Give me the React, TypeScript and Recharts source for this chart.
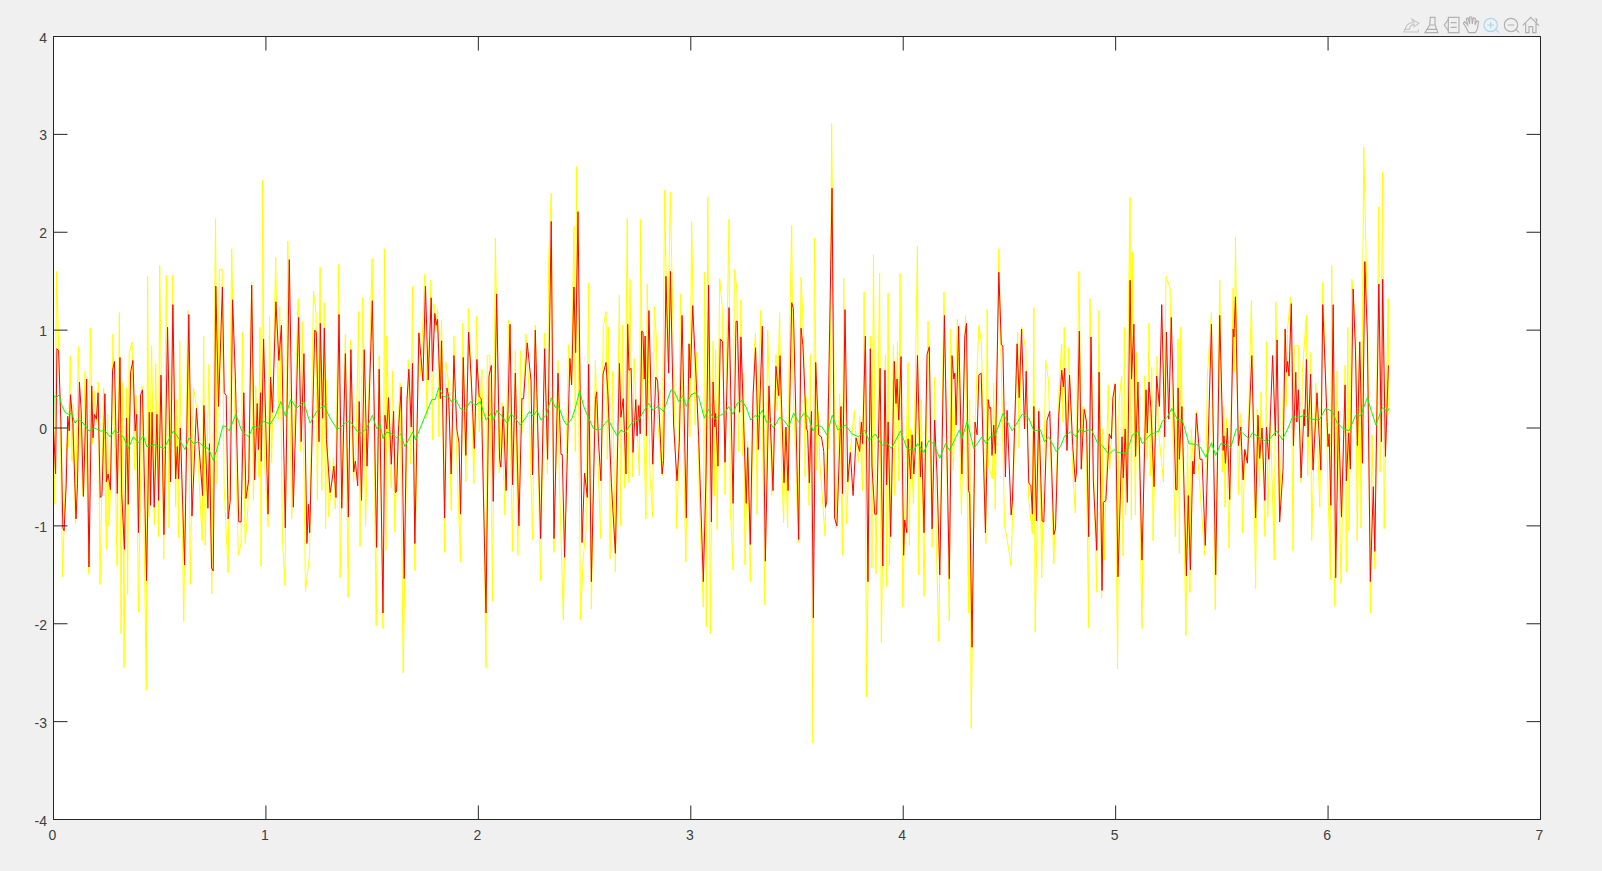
import React from "react";
import { LineChart, Line, XAxis, YAxis } from "recharts";

const xTicks = [0, 1, 2, 3, 4, 5, 6, 7];
const yTicks = [-4, -3, -2, -1, 0, 1, 2, 3, 4];

// [t, value], peaks and troughs of each trace
const yellowPoints: number[][] = [
  [0,.36],[.004,-.78],[.015,1.6],[.026,.7],[.043,-1.52],[.053,-.74],[.062,-.15],[.07,-.19],[.079,.74],[.087,-.34],[.093,.24],[.103,-.98],[.117,.83],[.128,-.09],[.137,-.69],[.148,.58],[.166,-1.49],[.173,1.02],[.184,-.16],[.194,.38],[.203,.05],[.211,.47],[.219,-1.6],[.236,.41],[.249,-1.24],[.255,.14],[.261,-1],[.271,-.5],[.28,.96],[.299,-1.41],[.31,1.18],[.318,-2.1],[.326,.47],[.332,-2.45],[.343,.41],[.349,-1.7],[.356,.76],[.37,.88],[.381,-.43],[.389,.33],[.4,-1.88],[.417,.43],[.437,-2.68],[.443,1.55],[.45,-.91],[.462,.84],[.475,-.99],[.481,.66],[.494,-1.11],[.5,1.66],[.519,-1.34],[.531,1.56],[.544,-1.02],[.561,1.56],[.575,-.81],[.582,.29],[.588,-1.12],[.594,.89],[.613,-1.98],[.632,1.2],[.644,-1.6],[.659,.41],[.673,.22],[.685,-.52],[.7,-1.15],[.707,.94],[.714,-1.2],[.732,.65],[.745,-1.69],[.763,2.14],[.77,-.57],[.781,1.62],[.794,1.62],[.803,-.59],[.822,-1.48],[.839,1.83],[.852,.26],[.87,-1.3],[.883,-1.18],[.889,.98],[.902,-1.18],[.915,-.84],[.933,1.49],[.941,-.74],[.952,.43],[.965,-.5],[.972,1.03],[.977,-1.41],[.985,2.53],[.993,-.33],[1.01,-1.01],[1.017,1.14],[1.027,-.36],[1.046,1.74],[1.059,.09],[1.065,1.24],[1.078,-1.14],[1.09,-1.61],[1.103,1.91],[1.121,-.93],[1.152,1.32],[1.162,-.24],[1.171,1.09],[1.186,-1.67],[1.205,-1.31],[1.224,1.4],[1.236,1.17],[1.242,-.74],[1.255,1.64],[1.263,-.64],[1.274,1.28],[1.281,-1.03],[1.287,.49],[1.294,-.91],[1.306,-.64],[1.318,-.3],[1.326,-.83],[1.343,1.67],[1.349,-1.53],[1.374,.96],[1.387,-1.73],[1.399,.9],[1.412,-.55],[1.424,-.17],[1.437,1.19],[1.443,-1.21],[1.456,1.33],[1.469,-1],[1.5,1.73],[1.519,-2.02],[1.533,.74],
  [1.551,-2.05],[1.558,1.83],[1.565,-1.25],[1.569,.94],[1.579,-.18],[1.59,-.61],[1.596,.58],[1.607,-1.06],[1.621,-.01],[1.632,.46],[1.646,-2.5],[1.67,.69],[1.682,-.37],[1.69,1.45],[1.701,-1.46],[1.719,.98],[1.73,.53],[1.747,1.57],[1.758,.1],[1.777,1.51],[1.784,-.12],[1.791,1.27],[1.8,.98],[1.808,1.21],[1.814,-.09],[1.827,1.1],[1.841,-1.27],[1.847,.67],[1.86,.46],[1.872,-.84],[1.885,.94],[1.897,-.2],[1.916,-1.37],[1.927,1.07],[1.941,-.55],[1.954,1.22],[1.967,.42],[1.979,-.57],[1.992,1.14],[2.004,-.04],[2.017,.6],[2.036,-2.45],[2.042,.74],[2.054,.74],[2.067,-1.77],[2.08,1.94],[2.098,-.46],[2.111,.26],[2.125,-.89],[2.142,1.1],[2.161,-1.26],[2.174,.79],[2.186,-1.3],[2.199,.79],[2.205,-.06],[2.224,.96],[2.237,.45],[2.255,-1.14],[2.268,1.05],[2.293,-1.56],[2.312,.97],[2.325,-.47],[2.331,1.72],[2.343,2.4],[2.356,-1.27],[2.375,.69],[2.381,-.48],[2.4,-1.96],[2.412,-.4],[2.425,.85],[2.438,.44],[2.45,2.06],[2.456,-.24],[2.463,2.67],[2.481,-1.96],[2.494,-1.31],[2.507,-1.05],[2.519,1.48],[2.532,-1.85],[2.551,.69],[2.563,-.33],[2.576,-1.13],[2.588,1.04],[2.601,1.19],[2.607,-.32],[2.613,1.03],[2.62,-1.34],[2.632,.58],[2.645,-1.47],[2.664,1.36],[2.67,-1],[2.679,1.05],[2.689,-.61],[2.701,2.14],[2.708,-.56],[2.714,1.52],[2.726,-.5],[2.733,.71],[2.758,-.49],[2.764,2.13],[2.77,.77],[2.789,-.93],[2.795,1.47],[2.808,-.5],[2.821,-.91],[2.828,1.24],[2.838,.92],[2.845,.06],[2.865,-.49],[2.877,2.43],[2.89,.67],[2.904,2.41],[2.934,-1.03],[2.94,-.6],[2.952,1.37],[2.977,-1.37],[2.99,.86],[2.996,-.09],[3.004,2.11],[3.02,.03],[3.028,.77],[3.04,-.74],[3.059,-1.83],[3.065,1.59],[3.073,-2.03],[3.08,2.36],[3.092,-2.1],[3.105,.89],[3.111,-.69],[3.117,.8],[3.124,-1.04],[3.136,1.53],
  [3.148,1.24],[3.161,-.68],[3.167,.52],[3.18,2.13],[3.186,-.81],[3.199,-1.45],[3.205,1.62],[3.217,1.42],[3.224,-.24],[3.236,1.31],[3.243,-.28],[3.249,.56],[3.255,-1.4],[3.268,-.14],[3.28,-1.57],[3.299,.82],[3.305,.97],[3.312,-.88],[3.318,.27],[3.33,1.2],[3.349,-1.81],[3.362,1],[3.375,.03],[3.381,-.69],[3.401,.75],[3.407,.18],[3.418,1.18],[3.425,-.18],[3.437,-.97],[3.443,-.01],[3.456,-1.02],[3.462,.56],[3.475,2.07],[3.481,.52],[3.506,-1.17],[3.519,1.54],[3.531,.95],[3.538,-.5],[3.544,.31],[3.557,-.79],[3.563,.75],[3.575,-3.22],[3.582,1.94],[3.594,-.43],[3.601,.16],[3.607,-.33],[3.632,-1.1],[3.645,.3],[3.651,-.22],[3.657,.58],[3.663,3.11],[3.682,-1.03],[3.701,.35],[3.714,-1.3],[3.72,1.53],[3.732,-.98],[3.745,-.37],[3.77,.18],[3.777,-.1],[3.789,-.35],[3.795,.12],[3.809,-.64],[3.816,1.39],[3.828,-2.75],[3.847,.94],[3.853,-1.43],[3.86,1.77],[3.872,-1.49],[3.889,1.58],[3.897,-2.19],[3.916,.75],[3.922,-1.62],[3.929,1.38],[3.935,-1.41],[3.954,.85],[3.96,-.69],[3.973,.88],[3.979,-.54],[3.985,1.58],[3.998,-1.83],[4.023,.67],[4.029,-1.2],[4.035,-.01],[4.048,-.77],[4.054,.12],[4.067,1.86],[4.073,-1.5],[4.085,.29],[4.098,-1.72],[4.117,1.09],[4.136,-1.22],[4.148,.52],[4.155,-1.1],[4.167,-2.18],[4.192,1.39],[4.217,-1.97],[4.224,1.01],[4.236,-.43],[4.255,1.11],[4.274,-.88],[4.293,1.15],[4.307,-1.89],[4.313,.29],[4.32,-3.07],[4.338,.03],[4.356,1.05],[4.368,.88],[4.389,-1.18],[4.395,1.21],[4.401,-.39],[4.42,-.52],[4.426,.46],[4.433,-.83],[4.45,1.83],[4.477,-1],[4.489,-1.13],[4.508,-1.41],[4.539,.98],[4.545,-.2],[4.558,1.03],[4.577,.8],[4.59,-.71],[4.608,-1.08],[4.615,1.23],[4.621,-2.08],[4.64,.2],[4.652,-1.53],[4.671,.69],[4.684,.48],[4.709,-1.39],[4.734,.41],
  [4.746,.86],[4.752,.06],[4.758,1.03],[4.765,-.16],[4.779,.82],[4.798,-.43],[4.81,-.87],[4.827,1.6],[4.84,-.43],[4.846,.22],[4.859,.17],[4.873,-2.04],[4.879,1.32],[4.898,-.56],[4.911,-1.68],[4.922,1.2],[4.934,-1.74],[4.94,-.01],[4.947,-1.35],[4.965,.44],[4.972,-.42],[4.997,.46],[5.009,-2.46],[5.016,.26],[5.028,.53],[5.035,-1.31],[5.041,1.03],[5.047,-.89],[5.068,2.36],[5.074,-.94],[5.08,1.8],[5.093,-.89],[5.099,.77],[5.112,-.47],[5.124,-2.05],[5.137,.53],[5.149,-.32],[5.157,1.07],[5.163,-.49],[5.17,.62],[5.176,-1.15],[5.195,.73],[5.201,-.01],[5.225,-.55],[5.237,1.55],[5.256,1.43],[5.275,-.65],[5.281,-1.11],[5.294,.91],[5.3,-1.28],[5.306,1.03],[5.331,-2.12],[5.338,-.14],[5.35,-1.68],[5.356,-.01],[5.369,-.47],[5.381,.17],[5.388,-.34],[5.419,-1.3],[5.432,.53],[5.451,1.18],[5.469,-1.86],[5.49,1.51],[5.502,-.45],[5.509,.22],[5.515,-.81],[5.521,.1],[5.534,-1.23],[5.553,1.43],[5.559,.57],[5.564,1.95],[5.578,-.68],[5.59,.15],[5.597,-1.07],[5.609,-.22],[5.621,-.34],[5.639,1.3],[5.659,-1.64],[5.666,.19],[5.678,-.6],[5.684,.37],[5.703,-1.11],[5.71,.88],[5.716,-.91],[5.729,.06],[5.747,-1.35],[5.754,1.29],[5.772,-.95],[5.778,-.4],[5.798,1.01],[5.804,.22],[5.81,1.03],[5.824,1.34],[5.835,-1.26],[5.841,.84],[5.86,.84],[5.873,-.56],[5.879,.57],[5.898,1.15],[5.904,-.49],[5.917,.77],[5.923,-1.15],[5.942,.46],[5.961,-.81],[5.975,1.49],[5.988,.51],[5.997,-.38],[6.011,-1.55],[6.017,1.66],[6.031,-1.82],[6.042,.58],[6.061,-1.59],[6.08,.64],[6.086,-1.47],[6.093,1.03],[6.099,-1.05],[6.112,1.52],[6.13,1.06],[6.137,-1.15],[6.149,.88],[6.155,-1.02],[6.168,2.87],[6.187,.93],[6.199,-1.89],[6.207,-.07],[6.22,-1.44],[6.239,2.26],[6.245,-.45],[6.257,2.61],[6.264,-1.03],[6.283,1.32],[6.287,.13],
];

const redPoints: number[][] = [
  [0,0],[.01,-.47],[.016,.81],[.024,.79],[.035,.05],[.044,-1.02],[.05,-1.05],[.06,-.57],[.067,.12],[.074,-.03],[.08,.34],[.091,.05],[.106,-.93],[.113,-.57],[.122,.47],[.13,.19],[.141,-.7],[.156,.5],[.167,-1.42],[.18,.43],[.186,-.1],[.193,.14],[.202,.09],[.21,.36],[.22,-.71],[.228,-.69],[.242,.35],[.249,-.55],[.257,-.47],[.268,-.63],[.278,.59],[.287,.68],[.3,-.67],[.313,.72],[.321,-.67],[.334,-1.24],[.344,.1],[.352,-.78],[.363,.57],[.374,.69],[.384,-.03],[.392,.14],[.4,-1.07],[.41,.34],[.419,.39],[.438,-1.56],[.451,.16],[.457,-.79],[.464,.16],[.474,-.81],[.487,.14],[.495,-.74],[.506,.54],[.52,-1.09],[.537,1.03],[.551,-.55],[.562,1.26],[.575,-.52],[.583,-.19],[.589,-.52],[.597,0],[.617,-1.4],[.637,1.16],[.652,-.9],[.673,.2],[.686,-.22],[.702,-.69],[.708,.23],[.727,-.82],[.734,-.16],[.744,-1.43],[.752,-1.46],[.764,1.45],[.777,.22],[.795,1.44],[.804,.36],[.813,.33],[.822,-.93],[.832,-.74],[.843,1.31],[.856,.53],[.872,-.96],[.883,-.96],[.896,.36],[.906,-.72],[.919,-.53],[.933,1.46],[.947,-.53],[.959,.25],[.965,-.22],[.975,.36],[.978,-.34],[.989,.91],[1.01,-.88],[1.022,.52],[1.031,.16],[1.047,1.29],[1.061,.69],[1.073,1.05],[1.091,-1.02],[1.11,1.72],[1.129,-.81],[1.154,1.13],[1.166,-.14],[1.179,.76],[1.193,-1.18],[1.2,-.78],[1.206,-1.07],[1.23,1],[1.237,.98],[1.25,-.14],[1.256,1.07],[1.267,.1],[1.275,1.02],[1.285,-.12],[1.302,-.66],[1.309,-.57],[1.32,-.39],[1.33,-.71],[1.344,1.16],[1.357,-.82],[1.374,.76],[1.388,-.91],[1.4,.8],[1.413,-.45],[1.421,-.34],[1.432,-.59],[1.439,.27],[1.45,-.74],[1.463,.8],[1.476,-.39],[1.501,1.3],[1.521,-1.22],[1.533,.6],
  [1.551,-1.89],[1.56,.13],[1.569,-.01],[1.577,.31],[1.59,-.37],[1.601,.17],[1.609,-.66],[1.615,-.65],[1.624,-.02],[1.637,.42],[1.651,-1.54],[1.664,.29],[1.673,.6],[1.684,.01],[1.69,.66],[1.701,-1.18],[1.72,.97],[1.73,.72],[1.739,.48],[1.751,1.45],[1.764,.49],[1.778,1.33],[1.784,.58],[1.795,1.17],[1.802,1.05],[1.808,1.11],[1.821,.3],[1.827,.89],[1.841,-.92],[1.852,.41],[1.86,.32],[1.872,-.47],[1.885,.74],[1.899,-.02],[1.909,-.15],[1.916,-.88],[1.929,.72],[1.941,-.28],[1.954,.98],[1.967,.48],[1.981,-.21],[1.993,.7],[2.004,.32],[2.014,.3],[2.036,-1.89],[2.05,.53],[2.061,.64],[2.07,-.75],[2.086,1.37],[2.1,-.32],[2.106,-.4],[2.117,.22],[2.131,-.64],[2.149,1.06],[2.161,-.58],[2.174,.56],[2.191,-1],[2.205,.3],[2.213,.3],[2.23,.87],[2.248,.48],[2.255,-.48],[2.268,1],[2.293,-1.13],[2.312,.81],[2.326,-.32],[2.343,2.11],[2.356,-1.13],[2.375,.56],[2.389,-.27],[2.395,-.27],[2.406,-1.32],[2.419,-.27],[2.431,.71],[2.439,.44],[2.45,1.44],[2.458,.77],[2.469,2.21],[2.488,-1.17],[2.5,-.46],[2.513,-.71],[2.519,.65],[2.532,-1.57],[2.551,.29],[2.557,.37],[2.566,-.15],[2.577,-.54],[2.587,.55],[2.601,.67],[2.61,.34],[2.626,-.56],[2.645,-1.28],[2.664,.66],[2.671,.11],[2.682,.3],[2.695,-.47],[2.703,1.06],[2.709,.59],[2.719,.61],[2.728,-.25],[2.741,.29],[2.747,-.08],[2.755,.23],[2.762,-.06],[2.769,.99],[2.775,.98],[2.781,.5],[2.785,.94],[2.791,-.08],[2.803,1.2],[2.821,-.37],[2.835,.52],[2.844,.48],[2.865,-.47],[2.872,-.33],[2.883,1.55],[2.896,.56],[2.904,1.6],[2.919,.04],[2.935,-.54],[2.946,-.15],[2.959,1.15],[2.979,-.92],[2.992,.86],[2.998,.51],[3.009,1.25],[3.026,.46],[3.037,-.09],[3.059,-1.57],[3.072,-.46],[3.084,1.46],[3.097,-.96],[3.105,.47],[3.113,.01],[3.117,.15],[3.128,-.39],[3.139,.91],
  [3.15,.88],[3.161,-.35],[3.18,1.23],[3.199,-.77],[3.213,1.09],[3.219,1.09],[3.23,.16],[3.236,.93],[3.261,-.77],[3.268,-.2],[3.28,-1.19],[3.293,.33],[3.305,.82],[3.318,-.22],[3.337,1.04],[3.351,-1.36],[3.368,.43],[3.387,-.64],[3.401,.63],[3.414,.33],[3.42,.74],[3.439,-.56],[3.448,.01],[3.458,-.64],[3.475,1.28],[3.483,1.22],[3.508,-1.14],[3.519,1.02],[3.528,.84],[3.544,-.01],[3.55,-.03],[3.558,-.56],[3.568,.17],[3.577,-1.94],[3.588,.67],[3.602,-.07],[3.615,-.09],[3.626,-.24],[3.634,-.81],[3.64,-.75],[3.665,2.45],[3.677,-.92],[3.688,-1],[3.707,.22],[3.714,-.67],[3.726,1.21],[3.739,-.55],[3.751,-.25],[3.764,-.69],[3.778,-.1],[3.795,-.24],[3.803,.06],[3.809,-.16],[3.822,.94],[3.834,-1.57],[3.845,.81],[3.853,-.39],[3.866,-.88],[3.875,-.88],[3.891,.61],[3.904,-1.41],[3.914,.59],[3.922,-.58],[3.929,.06],[3.941,-1.11],[3.958,.68],[3.966,.25],[3.971,.5],[3.979,.08],[3.99,.73],[4.002,-1.3],[4.007,-.94],[4.017,-1.07],[4.023,-.11],[4.035,-.52],[4.042,-.07],[4.05,-.47],[4.057,-.22],[4.067,.74],[4.081,-.5],[4.087,-.14],[4.098,-1.07],[4.112,.75],[4.123,.83],[4.136,-1.03],[4.148,.08],[4.159,-.47],[4.172,-1.5],[4.194,1.15],[4.217,-1.54],[4.23,.74],[4.238,.5],[4.243,.56],[4.249,.03],[4.261,1.04],[4.276,-.47],[4.29,.94],[4.298,1.07],[4.307,-.64],[4.313,-.67],[4.324,-2.24],[4.338,.06],[4.348,-.07],[4.356,.54],[4.367,.56],[4.387,-1.07],[4.4,.29],[4.406,.2],[4.412,.21],[4.418,-.28],[4.426,.03],[4.434,-.26],[4.45,1.59],[4.462,.85],[4.469,.84],[4.481,-.5],[4.489,.18],[4.508,-.89],[4.514,-.75],[4.536,.86],[4.546,.31],[4.557,1.01],[4.571,-.01],[4.579,.58],[4.591,-.56],[4.601,-.59],[4.608,-.88],[4.615,.22],[4.627,-.95],[4.638,.17],[4.654,-.95],[4.662,-.96],[4.677,.08],[4.69,.17],[4.709,-1.09],[4.717,-1.03],[4.732,.12],[4.74,.37],
  [4.746,.59],[4.754,.42],[4.76,.61],[4.771,-.23],[4.783,.54],[4.798,-.18],[4.81,-.55],[4.816,-.45],[4.829,.99],[4.838,-.42],[4.852,.19],[4.863,.06],[4.873,-1.11],[4.884,.93],[4.895,-.54],[4.911,-1.25],[4.922,.57],[4.936,-1.66],[4.942,-.76],[4.954,-.74],[4.97,-.06],[4.98,-.11],[4.987,.31],[4.998,.45],[5.011,-1.52],[5.03,-.09],[5.036,-.51],[5.045,-.01],[5.055,-.76],[5.068,1.51],[5.075,.5],[5.086,1.06],[5.094,-.29],[5.105,.47],[5.124,-1.35],[5.143,.39],[5.149,-.05],[5.157,.47],[5.166,.2],[5.181,-.6],[5.193,.53],[5.206,.22],[5.217,1.26],[5.231,-.09],[5.239,.98],[5.25,.09],[5.262,1.13],[5.283,-.63],[5.289,-.63],[5.294,.41],[5.3,-.32],[5.312,.22],[5.333,-1.51],[5.342,-.69],[5.352,-1.45],[5.363,-.34],[5.369,-.47],[5.38,.15],[5.397,-.32],[5.407,-.32],[5.422,-1.2],[5.451,1.06],[5.471,-1.5],[5.49,1.15],[5.506,-.23],[5.51,-.08],[5.517,-.36],[5.526,0],[5.537,-.73],[5.553,1.01],[5.557,.93],[5.564,1.34],[5.578,-.18],[5.589,.01],[5.6,-.53],[5.608,-.22],[5.62,-.36],[5.641,.74],[5.659,-.92],[5.67,.13],[5.678,-.31],[5.689,0],[5.702,-.74],[5.71,.01],[5.721,-.32],[5.739,.74],[5.752,-.08],[5.76,.9],[5.772,-.96],[5.788,-.42],[5.798,1.01],[5.804,.57],[5.81,.68],[5.816,.53],[5.827,1.27],[5.837,-.18],[5.848,.57],[5.853,.06],[5.86,.39],[5.873,-.51],[5.887,.19],[5.89,.02],[5.898,.7],[5.906,-.09],[5.918,.55],[5.929,-.43],[5.948,.36],[5.966,-.43],[5.975,1.26],[6,-.19],[6.005,-.06],[6.013,-.79],[6.024,1.26],[6.036,-1.53],[6.049,.17],[6.063,-.91],[6.08,.44],[6.086,-.54],[6.097,-.05],[6.105,-.42],[6.118,1.42],[6.129,.79],[6.138,-.18],[6.149,.88],[6.162,-.36],[6.173,1.7],[6.185,.93],[6.199,-1.57],[6.213,-.6],[6.22,-1.26],[6.239,1.47],[6.251,-.14],[6.257,1.52],[6.27,-.29],[6.284,.64],
];

const greenPoints: number[][] = [
  [0,0],[.002,.33],[.015,.31],[.027,.34],[.038,.24],[.054,.16],[.07,.14],[.086,.15],[.101,.05],[.117,.09],[.14,.05],[.167,-.03],[.195,0],[.219,-.03],[.243,-.03],[.266,-.09],[.29,-.02],[.313,-.07],[.329,-.09],[.352,-.21],[.376,-.09],[.4,-.15],[.423,-.08],[.439,-.19],[.478,-.17],[.52,-.21],[.564,-.03],[.588,-.1],[.619,-.22],[.638,-.1],[.659,-.16],[.682,-.14],[.706,-.19],[.729,-.21],[.753,-.33],[.773,-.19],[.797,.02],[.808,.02],[.827,-.03],[.859,.14],[.886,-.03],[.918,-.09],[.941,.02],[.965,0],[.988,.07],[1.02,.04],[1.043,.12],[1.07,.27],[1.092,.12],[1.117,.29],[1.145,.2],[1.177,.27],[1.208,.05],[1.239,.17],[1.255,.2],[1.274,.23],[1.302,.1],[1.334,-.01],[1.349,0],[1.373,.05],[1.396,.07],[1.428,-.03],[1.451,-.05],[1.475,0],[1.501,.13],[1.522,-.01],[1.538,.04],
  [1.551,-.11],[1.569,-.04],[1.593,-.06],[1.616,-.1],[1.635,-.06],[1.654,-.19],[1.679,-.09],[1.692,-.04],[1.704,-.12],[1.734,.04],[1.758,.17],[1.781,.29],[1.797,.29],[1.813,.41],[1.836,.32],[1.86,.32],[1.872,.27],[1.891,.3],[1.915,.2],[1.938,.18],[1.962,.27],[1.985,.23],[2.009,.27],[2.037,.08],[2.059,.15],[2.072,.08],[2.087,.18],[2.111,.12],[2.135,.05],[2.153,.14],[2.174,.1],[2.197,.03],[2.221,.1],[2.241,.17],[2.257,.12],[2.276,.18],[2.295,.08],[2.32,.13],[2.343,.31],[2.362,.21],[2.378,.22],[2.401,.08],[2.417,.03],[2.441,.1],[2.456,.2],[2.477,.38],[2.496,.22],[2.519,.1],[2.543,-.01],[2.574,-.02],[2.593,.04],[2.613,.08],[2.629,.01],[2.653,-.08],[2.671,-.02],[2.692,-.05],[2.708,.01],[2.731,.07],[2.755,.08],[2.778,.17],[2.802,.25],[2.822,.18],[2.844,.22],[2.872,.17],[2.888,.27],[2.907,.39],[2.923,.37],[2.943,.27],[2.963,.33],[2.979,.22],[3.001,.34],[3.021,.36],[3.037,.32],[3.064,.1],[3.084,.19],[3.108,.09],[3.139,.13],
  [3.147,.14],[3.163,.16],[3.178,.22],[3.199,.14],[3.217,.25],[3.241,.28],[3.261,.21],[3.283,.08],[3.304,.13],[3.316,.11],[3.337,.18],[3.356,.06],[3.371,.06],[3.39,0],[3.418,.11],[3.437,.08],[3.461,.01],[3.484,.15],[3.508,.06],[3.531,.15],[3.555,.11],[3.575,-.03],[3.594,.03],[3.618,.01],[3.641,-.07],[3.666,.13],[3.692,-.02],[3.728,.03],[3.759,-.06],[3.79,-.09],[3.819,-.02],[3.838,-.13],[3.869,-.06],[3.9,-.18],[3.919,-.14],[3.944,-.21],[3.987,-.03],[4.018,-.21],[4.05,-.23],[4.068,-.16],[4.097,-.25],[4.12,-.13],[4.144,-.16],[4.172,-.31],[4.199,-.16],[4.219,-.23],[4.246,-.1],[4.265,-.02],[4.277,-.11],[4.301,.07],[4.332,-.21],[4.371,-.09],[4.39,-.16],[4.41,-.09],[4.434,-.07],[4.47,.15],[4.513,-.03],[4.56,.14],[4.591,.1],[4.615,-.03],[4.646,-.02],[4.665,-.14],[4.685,-.09],[4.721,-.24],[4.74,-.19],
  [4.76,-.08],[4.788,-.04],[4.815,-.09],[4.83,-.01],[4.851,-.04],[4.885,-.01],[4.914,-.15],[4.937,-.18],[4.969,-.27],[4.992,-.22],[5.011,-.25],[5.052,-.26],[5.079,-.07],[5.105,-.04],[5.126,-.16],[5.162,-.07],[5.204,-.03],[5.22,.07],[5.243,.11],[5.264,.2],[5.29,.09],[5.314,.08],[5.345,-.16],[5.382,-.17],[5.4,-.2],[5.425,-.3],[5.451,-.15],[5.471,-.28],[5.495,-.16],[5.521,-.17],[5.542,-.2],[5.568,-.01],[5.597,-.05],[5.628,-.11],[5.644,-.05],[5.683,-.11],[5.714,-.14],[5.758,-.03],[5.785,-.12],[5.812,0],[5.832,.11],[5.863,.11],[5.887,.13],[5.926,.09],[5.958,.08],[5.989,.2],[6.02,.17],[6.041,.06],[6.067,0],[6.099,-.03],[6.13,.13],[6.154,.13],[6.185,.31],[6.204,.17],[6.225,.03],[6.256,.21],[6.279,.17],[6.287,.2],
];

const toRows = (points: number[][]) => points.map(([t, v]) => ({ t, v }));

const INK = "#262626";
const TICK_LEN = 14;
const labelStyle = { fontFamily: "Liberation Sans, Arial, sans-serif", fontSize: 14, fill: "#404040" };

// plot frame edges on the page
const LEFT = 53.5;
const RIGHT = 1540.5;
const TOP = 36.5;
const BOTTOM = 819.5;

const BottomTick = ({ x, payload }: any) => (
  <g>
    <line x1={x} x2={x} y1={BOTTOM} y2={BOTTOM - TICK_LEN} stroke={INK} />
    <text x={x - 1} y={BOTTOM + 20} textAnchor="middle" {...labelStyle}>{payload.value}</text>
  </g>
);
const TopTick = ({ x }: any) => <line x1={x} x2={x} y1={TOP} y2={TOP + TICK_LEN} stroke={INK} />;
const LeftTick = ({ y, payload }: any) => (
  <g>
    <line x1={LEFT} x2={LEFT + TICK_LEN} y1={y} y2={y} stroke={INK} />
    <text x={47} y={y + 6} textAnchor="end" {...labelStyle}>{payload.value}</text>
  </g>
);
const RightTick = ({ y }: any) => <line x1={RIGHT} x2={RIGHT - TICK_LEN} y1={y} y2={y} stroke={INK} />;

// figure toolbar in the top right corner
const Toolbar = () => (
  <svg width={145} height={30} viewBox="0 0 435 90" style={{ position: "absolute", left: 1400, top: 10 }} fill="none" strokeWidth={3.5}>
    <g stroke="#c8c8c8">
      <path d="M10 66 L55 66 L55 58 M12 66 L20 46 C26 40 34 38 42 38 L36 28 L57 40 L42 50 L42 44 C34 44 30 48 28 58 L12 58" />
    </g>
    <g stroke="#b0b0b0">
      <path d="M91 22 L105 22 L105 45 L114 68 L75 68 L89 45 Z M80 58 L109 58 M89 45 L105 45" />
      <rect x={145} y={22} width={32} height={46} />
      <path d="M152 38 L170 38 M152 52 L170 52 M145 28 L133 45 L145 62" />
      <path d="M206 68 L197 50 L190 40 L194 35 L203 45 L199 26 L204 24 L209 42 L209 21 L215 21 L217 42 L220 24 L226 25 L225 44 L231 32 L236 35 L232 56 L226 68 Z" />
      <circle cx={333} cy={45} r={20} />
      <path d="M348 59 L358 68 M323 45 L343 45" />
      <path d="M368 47 L392 22 L417 47 M377 40 L377 68 L387 68 L387 50 L398 50 L398 68 L408 68 L408 40 M404 27 L410 27 L410 36" />
    </g>
    <g stroke="#a6d6f7">
      <circle cx={272} cy={45} r={20} />
      <path d="M287 59 L297 68 M262 45 L282 45 M272 35 L272 55" />
    </g>
  </svg>
);

export default function App() {
  return (
    <div style={{ position: "absolute", left: 0, top: 0, width: 1602, height: 871, background: "#f0f0f0", overflow: "hidden" }}>
      <Toolbar />
      <LineChart width={1602} height={871} margin={{ top: TOP - 1, right: 1602 - RIGHT - 1, bottom: 871 - BOTTOM - 1, left: LEFT - 1 }} style={{ position: "absolute" }}>
        <rect x={LEFT} y={TOP} width={RIGHT - LEFT} height={BOTTOM - TOP} fill="#fff" />
        <XAxis xAxisId="b" type="number" dataKey="t" domain={[0, 7]} ticks={xTicks} height={1} allowDataOverflow stroke={INK} tickLine={false} tick={<BottomTick />} interval={0} />
        <XAxis xAxisId="t" type="number" dataKey="t" orientation="top" domain={[0, 7]} ticks={xTicks} height={1} allowDataOverflow stroke={INK} tickLine={false} tick={<TopTick />} interval={0} />
        <YAxis yAxisId="l" type="number" domain={[-4, 4]} ticks={yTicks} width={1} allowDataOverflow stroke={INK} tickLine={false} tick={<LeftTick />} interval={0} />
        <YAxis yAxisId="r" type="number" orientation="right" domain={[-4, 4]} ticks={yTicks} width={1} allowDataOverflow stroke={INK} tickLine={false} tick={<RightTick />} interval={0} />
        <Line xAxisId="b" yAxisId="l" data={toRows(yellowPoints)} dataKey="v" type="linear" stroke="#ffff00" strokeWidth={1} dot={false} isAnimationActive={false} />
        <Line xAxisId="b" yAxisId="l" data={toRows(redPoints)} dataKey="v" type="linear" stroke="#ff0000" strokeWidth={1} dot={false} isAnimationActive={false} />
        <Line xAxisId="b" yAxisId="l" data={toRows(greenPoints)} dataKey="v" type="linear" stroke="#00ff00" strokeWidth={1} dot={false} isAnimationActive={false} />
      </LineChart>
    </div>
  );
}
